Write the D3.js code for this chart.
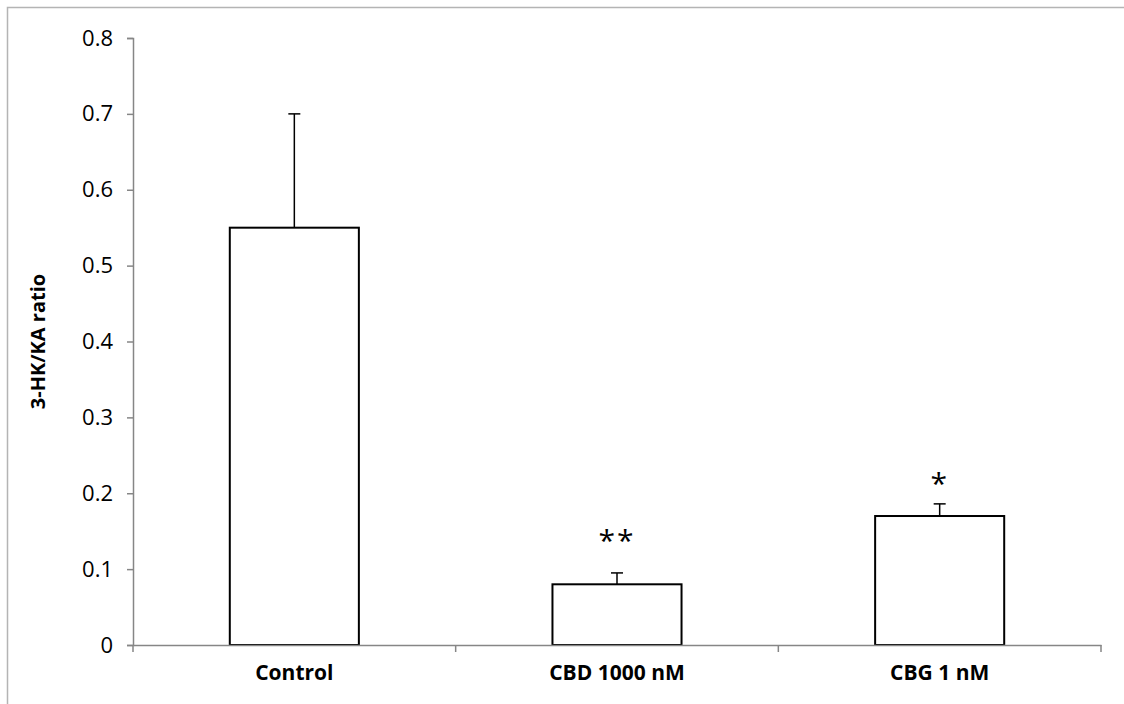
<!DOCTYPE html>
<html>
<head>
<meta charset="utf-8">
<script src="https://cdn.jsdelivr.net/npm/d3@7"></script>
<style>
  body { margin: 0; background: #fff; }
  svg text { font-family: "Open Sans", "Liberation Sans", sans-serif; fill: #000; }
</style>
</head>
<body>
<div id="chart"></div>
<script>
// data
const groups = ["Control", "CBD 1000 nM", "CBG 1 nM"];
const means = [0.55, 0.08, 0.17];
const errors = [0.15, 0.015, 0.016];
const marks = ["", "**", "*"];
const markLevels = [0, 0.142, 0.217];
const yTicks = [0, 0.1, 0.2, 0.3, 0.4, 0.5, 0.6, 0.7, 0.8];

const W = 1124, H = 704;
const margin = { top: 38, right: 23, bottom: 59, left: 133 };
const width = W - margin.left - margin.right;
const height = H - margin.top - margin.bottom;

const root = d3.select("#chart").append("svg")
  .attr("width", W)
  .attr("height", H);

// outer frame (only left and top edges fall inside the picture)
root.append("rect")
  .attr("x", 7.5).attr("y", 7.5)
  .attr("width", W + 20).attr("height", H + 20)
  .attr("fill", "none")
  .attr("stroke", "#b4b4b4")
  .attr("stroke-width", 1.5);

const svg = root.append("g")
  .attr("transform", `translate(${margin.left},${margin.top})`);

const x = d3.scaleBand().domain(groups).range([0, width]).padding(0);
const y = d3.scaleLinear().domain([0, 0.8]).range([height, 0]);
const barW = x.bandwidth() * 0.4;

// y axis
const yAxis = svg.append("g")
  .call(d3.axisLeft(y).tickValues(yTicks).tickSize(6).tickPadding(14)
    .tickFormat(d => d === 0 ? "0" : d3.format(".1f")(d)));
yAxis.select(".domain").attr("stroke", "#868686").attr("stroke-width", 1.5);
yAxis.selectAll(".tick line").attr("stroke", "#868686").attr("stroke-width", 1.5);
yAxis.selectAll(".tick text").attr("font-size", 22);

// bars
svg.selectAll(".bar")
  .data(groups)
  .enter()
  .append("rect")
  .attr("class", "bar")
  .attr("x", d => x(d) + (x.bandwidth() - barW) / 2)
  .attr("y", (d, i) => y(means[i]))
  .attr("width", barW)
  .attr("height", (d, i) => height - y(means[i]))
  .attr("fill", "#fff")
  .attr("stroke", "#000")
  .attr("stroke-width", 2);

// error bars (upper only)
const cx = d => x(d) + x.bandwidth() / 2;
svg.selectAll(".err")
  .data(groups)
  .enter()
  .append("line")
  .attr("x1", cx).attr("x2", cx)
  .attr("y1", (d, i) => y(means[i]))
  .attr("y2", (d, i) => y(means[i] + errors[i]))
  .attr("stroke", "#000")
  .attr("stroke-width", 1.5);
svg.selectAll(".cap")
  .data(groups)
  .enter()
  .append("line")
  .attr("x1", d => cx(d) - 6).attr("x2", d => cx(d) + 6)
  .attr("y1", (d, i) => y(means[i] + errors[i]))
  .attr("y2", (d, i) => y(means[i] + errors[i]))
  .attr("stroke", "#000")
  .attr("stroke-width", 1.5);

// significance marks
svg.selectAll(".sig")
  .data(groups)
  .enter()
  .append("text")
  .attr("x", cx)
  .attr("y", (d, i) => y(markLevels[i]) + 14)
  .attr("text-anchor", "middle")
  .attr("font-size", 30)
  .attr("letter-spacing", 2)
  .text((d, i) => marks[i]);

// x axis
const xAxis = svg.append("g")
  .attr("transform", `translate(0,${height})`)
  .call(d3.axisBottom(x).tickSize(0).tickPadding(20));
xAxis.select(".domain").attr("stroke", "#868686").attr("stroke-width", 1.5);
xAxis.selectAll(".tick text")
  .attr("font-size", 21)
  .attr("font-weight", "bold");
// boundary ticks between categories
xAxis.selectAll(".bound")
  .data(groups.concat(["end"]))
  .enter()
  .append("line")
  .attr("x1", (d, i) => i < groups.length ? x(d) : width)
  .attr("x2", (d, i) => i < groups.length ? x(d) : width)
  .attr("y1", 0).attr("y2", 7)
  .attr("stroke", "#868686")
  .attr("stroke-width", 1.5);

// Y-axis label
svg.append("text")
  .attr("x", -height / 2)
  .attr("y", -margin.left + 38)
  .attr("transform", "rotate(-90)")
  .attr("text-anchor", "middle")
  .attr("dy", "0.35em")
  .attr("font-size", 20)
  .attr("font-weight", "bold")
  .text("3-HK/KA ratio");
</script>
</body>
</html>
